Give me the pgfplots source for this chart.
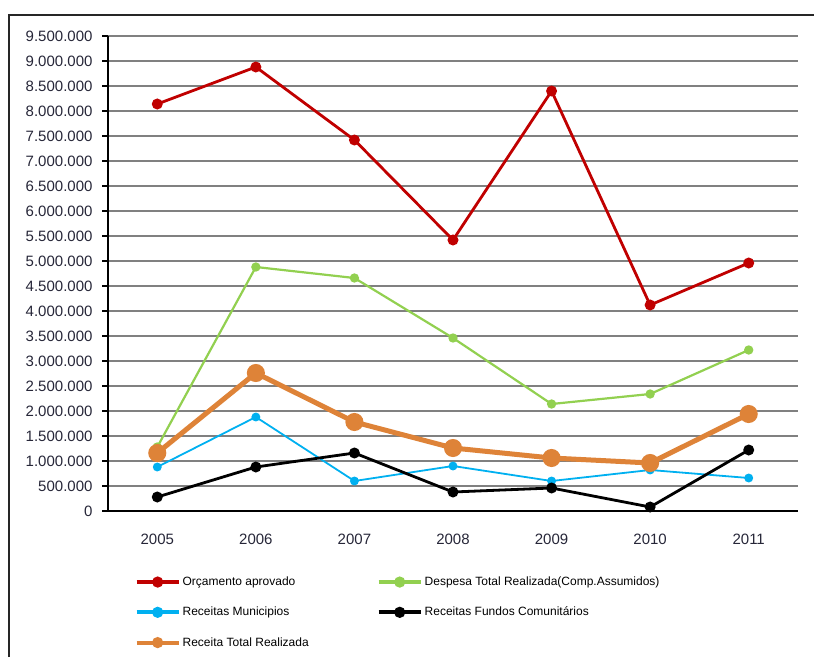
\documentclass[border=0pt]{standalone}
\usepackage{pgfplots}
\pgfplotsset{compat=1.18}
\usepackage{fontspec}
\setmainfont{Liberation Sans}
\definecolor{cred}{HTML}{C00000}
\definecolor{cgreen}{HTML}{92D050}
\definecolor{cblue}{HTML}{00B0F0}
\definecolor{corange}{HTML}{DE8338}
\definecolor{cgrid}{HTML}{808080}
\definecolor{clab}{HTML}{262638}
\begin{document}
\begin{tikzpicture}[x=1pt,y=1pt]
\useasboundingbox (0,0) rectangle (814,657);
\draw[line width=1.6pt, black!85] (9,0) -- (9,642) -- (816,642);
\begin{axis}[
  at={(108pt,146pt)}, anchor=south west,
  scale only axis, width=690pt, height=475pt,
  xmin=-0.5, xmax=6.5, ymin=0, ymax=9500000,
  axis x line=bottom, axis y line=left,
  axis line style={-, line width=2.2pt, black},
  xtick={0,1,2,3,4,5,6},
  xticklabels={2005,2006,2007,2008,2009,2010,2011},
  major x tick style={draw=none},
  extra x ticks={-0.5,0.5,1.5,2.5,3.5,4.5,5.5,6.5},
  extra x tick labels={},
  extra x tick style={grid=none, major tick length=6pt, tick align=outside, major tick style={line width=1.6pt, black}},
  ytick={0,500000,...,9500000},
  scaled y ticks=false,
  /pgf/number format/.cd, fixed, 1000 sep={.}, assume math mode=true,
  /pgfplots/.cd,
  tick align=outside,
  major tick length=6pt,
  y tick style={line width=1.6pt, black},
  ymajorgrids,
  grid style={line width=2.5pt, cgrid},
  tick label style={font=\fontsize{15}{17}\selectfont, text=clab},
  xticklabel style={yshift=-13pt},
  yticklabel style={xshift=-6pt},
  legend style={at={(0.034,-0.13)}, anchor=north west, draw=none, fill=none,
    font=\fontsize{12}{14}\selectfont, row sep=16pt,
    /tikz/column 2/.style={column sep=66pt}},
  legend columns=2,
  legend cell align=left,
  legend image code/.code={\draw[#1, line width=4pt, mark size=3.5pt, mark repeat=2, mark phase=2] plot coordinates {(0pt,0pt) (21pt,0pt) (42pt,0pt)};},
]
\addplot[cred, line width=2.8pt, mark=*, mark size=4pt] coordinates {
 (0,8140000) (1,8880000) (2,7420000) (3,5420000) (4,8400000) (5,4120000) (6,4960000)};
\addlegendentry{Orçamento aprovado}
\addplot[cgreen, line width=2.2pt, mark=*, mark size=3.5pt] coordinates {
 (0,1280000) (1,4880000) (2,4660000) (3,3460000) (4,2140000) (5,2340000) (6,3220000)};
\addlegendentry{Despesa Total Realizada(Comp.Assumidos)}
\addplot[cblue, line width=1.8pt, mark=*, mark size=3.5pt] coordinates {
 (0,880000) (1,1880000) (2,600000) (3,900000) (4,600000) (5,820000) (6,660000)};
\addlegendentry{Receitas  Municipios}
\addplot[black, line width=2.8pt, mark=*, mark size=4pt] coordinates {
 (0,280000) (1,880000) (2,1160000) (3,380000) (4,460000) (5,80000) (6,1220000)};
\addlegendentry{Receitas Fundos Comunitários}
\addplot[corange, line width=5pt, mark=*, mark size=6.5pt] coordinates {
 (0,1160000) (1,2760000) (2,1780000) (3,1260000) (4,1060000) (5,960000) (6,1940000)};
\addlegendentry{Receita Total Realizada}
\end{axis}
\end{tikzpicture}
\end{document}
